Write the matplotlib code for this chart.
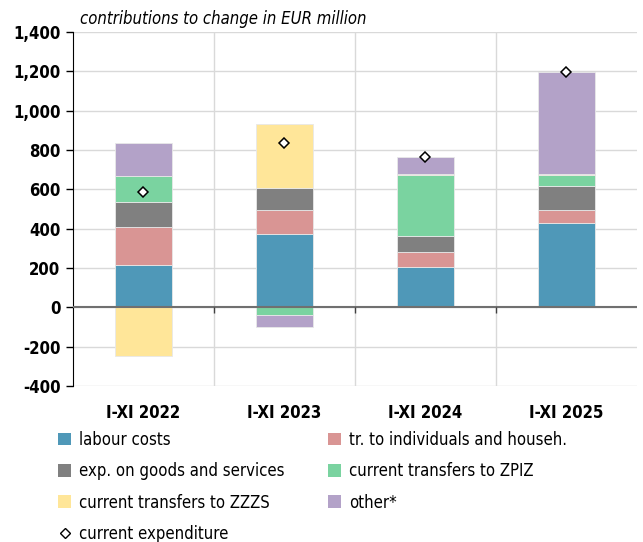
import numpy as np
import matplotlib.pyplot as plt
from matplotlib.lines import Line2D
from matplotlib.patches import Patch

# --- data (EUR million, contributions to change) ---
periods = ["I-XI 2022", "I-XI 2023", "I-XI 2024", "I-XI 2025"]
labour = [216, 374, 205, 430]
transfers_indiv = [193, 120, 77, 64]
goods_services = [127, 115, 82, 122]
transfers_zpiz = [129, -39, 309, 56]
transfers_zzzs = [-250, 322, 7, 5]
other = [171, -61, 83, 518]
current_exp = [587, 834, 765, 1198]

series = [
    ("labour costs", labour, "#4F98B8"),
    ("tr. to individuals and househ.", transfers_indiv, "#D99594"),
    ("exp. on goods and services", goods_services, "#808080"),
    ("current transfers to ZPIZ", transfers_zpiz, "#7AD3A0"),
    ("current transfers to ZZZS", transfers_zzzs, "#FFE699"),
    ("other*", other, "#B3A2C8"),
]

plt.rcParams['font.family'] = ['DejaVu Sans']
plt.rcParams['font.stretch'] = 'condensed'

fig = plt.figure(figsize=(6.43, 5.42), dpi=100)
ax = fig.add_axes([0.1135, 0.288, 0.877, 0.653])

x = np.arange(len(periods)) + 0.5
pos_bottom = np.zeros(len(periods))
neg_bottom = np.zeros(len(periods))
handles = {}
for name, vals, col in series:
    vals = np.array(vals, dtype=float)
    bottom = np.where(vals >= 0, pos_bottom, neg_bottom)
    ax.bar(x, vals, width=0.4, bottom=bottom, color=col,
           edgecolor="#E8E8E8", linewidth=0.6, zorder=3)
    pos_bottom += np.clip(vals, 0, None)
    neg_bottom += np.clip(vals, None, 0)
    handles[name] = Patch(facecolor=col, edgecolor="none")

ax.plot(x, current_exp, linestyle="none", marker="D", markersize=5.5,
        markerfacecolor="white", markeredgecolor="black", markeredgewidth=1.1,
        zorder=5)
handles["current expenditure"] = Line2D([], [], linestyle="none", marker="D",
                                        markersize=5, markerfacecolor="white",
                                        markeredgecolor="black")

ax.set_xlim(0, len(periods))
ax.set_ylim(-400, 1400)
ax.set_yticks(np.arange(-400, 1401, 200))
ax.set_yticklabels([f"{v:,}" for v in range(-400, 1401, 200)],
                   fontsize=12, fontweight="bold")
ax.set_xticks(x)
ax.set_xticklabels(periods, fontsize=12, fontweight="bold")
ax.tick_params(axis="x", length=0, pad=13)
ax.tick_params(axis="y", length=5, width=1, direction="out", pad=4)

# grid
ax.grid(axis="y", color="#D9D9D9", linewidth=1, zorder=0)
for b in range(1, len(periods)):
    ax.axvline(b, color="#D9D9D9", linewidth=1, zorder=0)
ax.axhline(0, color="#707070", linewidth=1.5, zorder=4)
ax.vlines(range(1, len(periods)), -28, 0, color="#404040", linewidth=1, zorder=4)

for s in ["top", "right", "bottom"]:
    ax.spines[s].set_visible(False)
ax.spines["left"].set_color("black")

fig.text(0.125, 0.965, "contributions to change in EUR million",
         fontsize=12, style="italic", ha="left", va="center")

leg_kw = dict(loc="upper left", frameon=False, fontsize=12,
              handlelength=0.8, handleheight=0.8, handletextpad=0.45,
              labelspacing=0.8, borderaxespad=0, borderpad=0)
left_keys = ["labour costs", "exp. on goods and services",
             "current transfers to ZZZS", "current expenditure"]
right_keys = ["tr. to individuals and househ.", "current transfers to ZPIZ", "other*"]
fig.legend([handles[k] for k in left_keys], left_keys,
           bbox_to_anchor=(0.09, 0.205), **leg_kw)
fig.legend([handles[k] for k in right_keys], right_keys,
           bbox_to_anchor=(0.51, 0.205), **leg_kw)

fig.savefig("out.png", dpi=100)
